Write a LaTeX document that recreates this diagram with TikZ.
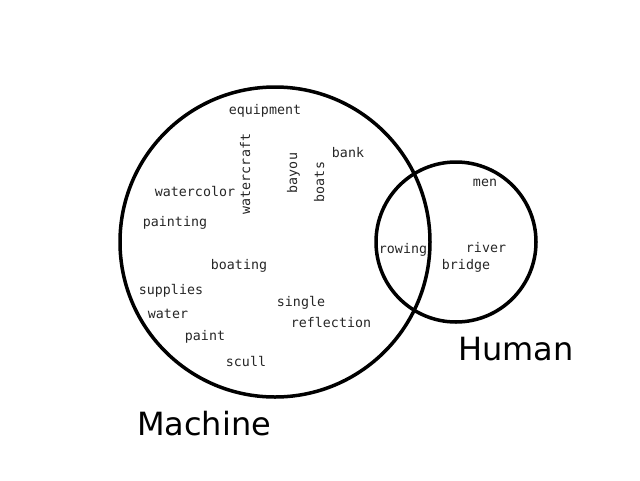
\documentclass[tikz,border=0pt]{standalone}
\usepackage{fontspec}
\setmonofont{DejaVu Sans Mono}
\setsansfont{DejaVu Sans}
\begin{document}
\begin{tikzpicture}[x=1pt, y=-1pt,
		set/.style={draw, line width=3.5pt},
		word/.style={font=\ttfamily\fontsize{13.3}{16}\selectfont, text=black!85, inner sep=0pt, anchor=mid},
		setname/.style={font=\sffamily\fontsize{32}{38}\selectfont, inner sep=0pt, anchor=base}]
	\useasboundingbox (0,0) rectangle (640,480);
	% the two sets
	\draw[set] (275,242) circle (155);
	\draw[set] (456,242) circle (80);
	% words only in Machine
	\foreach \w/\x/\y in {equipment/265/112, bank/348/155, watercolor/195/194,
			painting/175/224, boating/239/267, supplies/171/292, water/168/316,
			paint/205/338, scull/246/364, single/301/304, reflection/331/325}
		\node[word] (\w) at (\x,\y) {\w};
	\foreach \w/\x/\y in {watercraft/248/174, bayou/295/173, boats/322/182}
		\node[word, rotate=90] (\w) at (\x,\y) {\w};
	% shared, and only in Human
	\node[word] (rowing) at (403,251) {rowing};
	\foreach \w/\x/\y in {men/485/184, river/486/250, bridge/466/267}
		\node[word] (\w) at (\x,\y) {\w};
	\node[setname] (machine) at (204,435) {Machine};
	\node[setname] (human) at (516,360) {Human};
\end{tikzpicture}
\end{document}
